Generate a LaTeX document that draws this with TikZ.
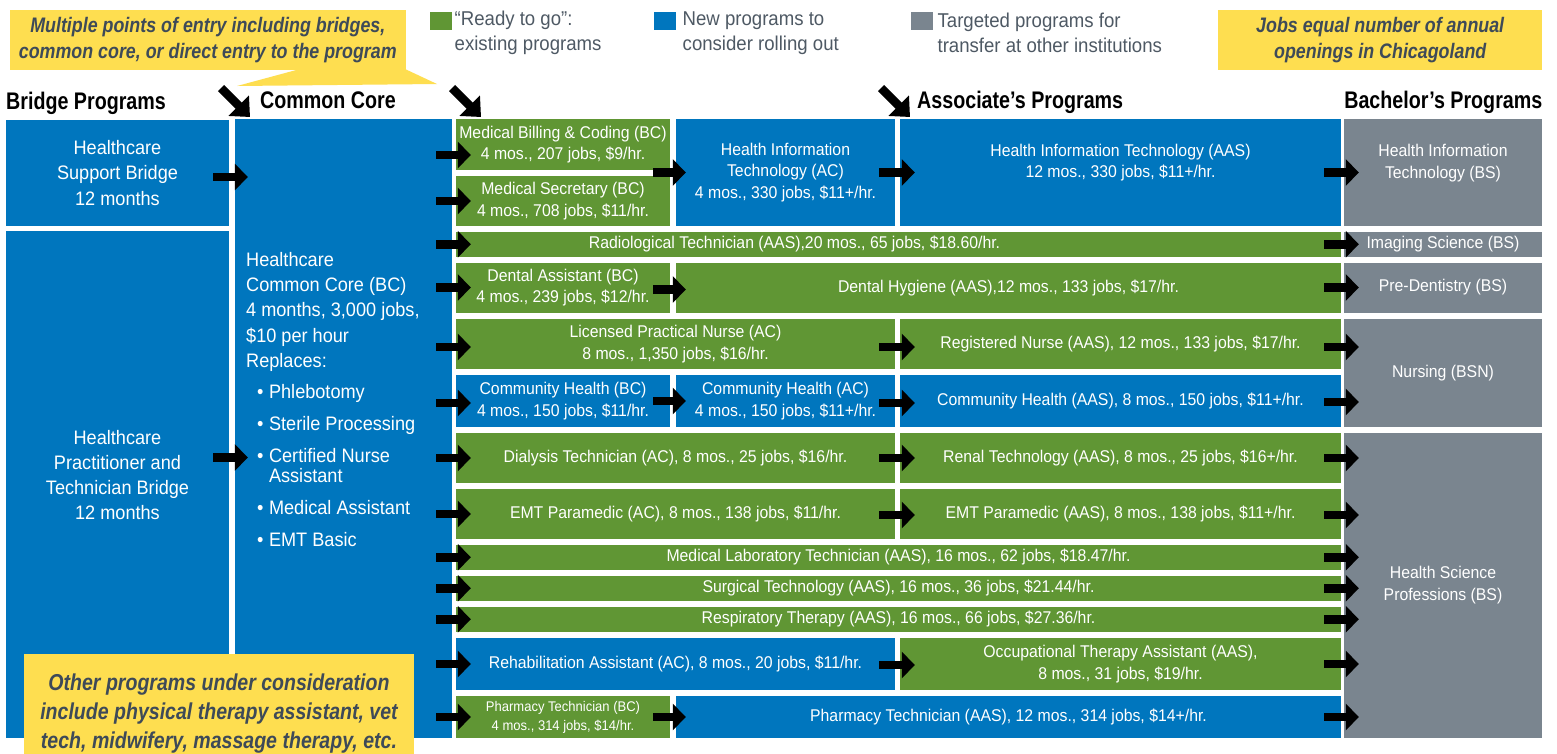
\documentclass[tikz,border=0pt]{standalone}
\usepackage{fontspec}
\setmainfont{Liberation Sans}[FakeStretch=0.93]
\newfontfamily\headfont{Liberation Sans}[FakeStretch=0.82]
\newfontfamily\callfont{Liberation Sans}[FakeStretch=0.85]
\usetikzlibrary{arrows.meta,positioning,calc}
\definecolor{readygreen}{RGB}{96,150,52}
\definecolor{newblue}{RGB}{0,118,190}
\definecolor{transgray}{RGB}{122,133,143}
\definecolor{noteyellow}{RGB}{254,222,80}
\definecolor{notetext}{RGB}{62,74,88}
\definecolor{keytext}{RGB}{78,89,100}
\begin{document}
\begin{tikzpicture}
[x=1pt,y=-1pt,
prog/.style={rectangle,inner sep=0pt,text=white,align=center,font=\fontsize{17}{21.5}\selectfont},
grn/.style={prog,fill=readygreen},
blu/.style={prog,fill=newblue},
gry/.style={prog,fill=transgray},
bridge/.style={prog,font=\fontsize{19.5}{25.3}\selectfont},
note/.style={fill=noteyellow,text=notetext,inner sep=0pt,align=center,font=\callfont\bfseries\itshape\fontsize{21}{25.5}\selectfont},
head/.style={inner sep=0pt,font=\headfont\bfseries\fontsize{24}{28}\selectfont},
keybox/.style={inner sep=0pt,minimum width=22pt,minimum height=18pt},
keytxt/.style={inner sep=0pt,text=keytext,align=left,anchor=west,font=\fontsize{20}{24.4}\selectfont},
go/.style={-{Triangle[length=13pt,width=26pt]},line width=8.5pt},
diag/.style={-{Triangle[length=16pt,width=28pt]},line width=8.5pt}]
\useasboundingbox (0,0) rectangle (1557,753);
\clip (0,0) rectangle (1557,753);
\fill[white] (0,0) rectangle (1557,753);

% callouts and legend
\node[note,minimum width=396pt,minimum height=60pt] (entry) at (207.8,40) {Multiple points of entry including bridges,\\common core, or direct entry to the program};
\fill[noteyellow] (300,69) -- (237,86) -- (437,84) -- (405,69) -- cycle;
\node[note,minimum width=324pt,minimum height=60pt] (jobs) at (1380.2,40) {Jobs equal number of annual\\openings in Chicagoland};
\node[keybox,fill=readygreen] (kgreen) at (440.7,20.9) {};
\node[keytxt] (kgreentxt) at (454.5,33) {“Ready to go”:\\existing programs};
\node[keybox,fill=newblue] (kblue) at (664.8,20.9) {};
\node[keytxt] (kbluetxt) at (682.5,33) {New programs to\\consider rolling out};
\node[keybox,fill=transgray] (kgray) at (922,20.9) {};
\node[keytxt] (kgraytxt) at (937.4,33) {Targeted programs for\\transfer at other institutions};

% column heads
\node[head,anchor=base west] (hbridge) at (6,109) {Bridge Programs};
\node[head,anchor=base west] (hcore) at (260,108.5) {Common Core};
\node[head,anchor=base west] (hassoc) at (917,108.5) {Associate’s Programs};
\node[head,anchor=base east] (hbach) at (1542.5,108.5) {Bachelor’s Programs};
\coordinate (ent1) at (221,88);
\coordinate (tip1) at (250,117);
\coordinate (ent2) at (452,88);
\coordinate (tip2) at (481,117);
\coordinate (ent3) at (881,88);
\coordinate (tip3) at (910,117);
\draw[diag] (ent1) -- (tip1);
\draw[diag] (ent2) -- (tip2);
\draw[diag] (ent3) -- (tip3);

% bridges and common core
\node[blu,bridge,minimum width=223pt,minimum height=106pt] (hsb) at (117.5,173) {Healthcare\\Support Bridge\\12 months};
\node[blu,minimum width=223pt,minimum height=507pt] (hpt) at (117.5,484.5) {};
\node[bridge] (hpttext) at ([yshift=9.5pt]hpt.center) {Healthcare\\Practitioner and\\Technician Bridge\\12 months};
\node[blu,minimum width=217pt,minimum height=619pt] (cc) at (343.5,428.5) {};
\node[bridge,align=left,anchor=north west] (cctext) at (246,252) {Healthcare\\Common Core (BC)\\4 months, 3,000 jobs,\\\$10 per hour\\Replaces:\\[5.3pt]
\hspace*{11pt}\textbullet\hspace{5.5pt}Phlebotomy\\[7pt]
\hspace*{11pt}\textbullet\hspace{5.5pt}Sterile Processing\\[6.5pt]
\hspace*{11pt}\textbullet\hspace{5.5pt}Certified Nurse\\[-5.5pt]
\hspace*{22.8pt}Assistant\\[7pt]
\hspace*{11pt}\textbullet\hspace{5.5pt}Medical Assistant\\[6.5pt]
\hspace*{11pt}\textbullet\hspace{5.5pt}EMT Basic};

% certificates and associate programs
\node[grn,minimum width=214pt,minimum height=51pt] (mbc) at (563,144.5) {Medical Billing \& Coding (BC)\\4 mos., 207 jobs, \$9/hr.};
\node[grn,minimum width=214pt,minimum height=50pt] (msec) at (563,201) {Medical Secretary (BC)\\4 mos., 708 jobs, \$11/hr.};
\node[blu,minimum width=219pt,minimum height=107pt] (hitac) at (785.5,172.5) {Health Information\\Technology (AC)\\4 mos., 330 jobs, \$11+/hr.};
\node[blu,minimum width=441pt,minimum height=107pt] (hitaas) at (1120.5,172.5) {};
\node[prog] (hitaastext) at ([yshift=10pt]hitaas.center) {Health Information Technology (AAS)\\12 mos., 330 jobs, \$11+/hr.};
\node[grn,minimum width=885pt,minimum height=25.5pt] (rad) at (898.5,244.25) {};
\node[prog] (radtext) at ([xshift=-104pt]rad.center) {Radiological Technician (AAS),20 mos., 65 jobs, \$18.60/hr.};
\node[grn,minimum width=214pt,minimum height=50pt] (dasst) at (563,287.5) {Dental Assistant (BC)\\4 mos., 239 jobs, \$12/hr.};
\node[grn,minimum width=665pt,minimum height=50pt] (dhyg) at (1008.5,287.5) {Dental Hygiene (AAS),12 mos., 133 jobs, \$17/hr.};
\node[grn,minimum width=439pt,minimum height=50pt] (lpn) at (675.5,344) {Licensed Practical Nurse (AC)\\8 mos., 1,350 jobs, \$16/hr.};
\node[grn,minimum width=441pt,minimum height=50pt] (rn) at (1120.5,344) {Registered Nurse (AAS), 12 mos., 133 jobs, \$17/hr.};
\node[blu,minimum width=214pt,minimum height=52pt] (chbc) at (563,401) {Community Health (BC)\\4 mos., 150 jobs, \$11/hr.};
\node[blu,minimum width=219pt,minimum height=52pt] (chac) at (785.5,401) {Community Health (AC)\\4 mos., 150 jobs, \$11+/hr.};
\node[blu,minimum width=441pt,minimum height=52pt] (chaas) at (1120.5,401) {Community Health (AAS), 8 mos., 150 jobs, \$11+/hr.};
\node[grn,minimum width=439pt,minimum height=50pt] (dial) at (675.5,458) {Dialysis Technician (AC), 8 mos., 25 jobs, \$16/hr.};
\node[grn,minimum width=441pt,minimum height=50pt] (renal) at (1120.5,458) {Renal Technology (AAS), 8 mos., 25 jobs, \$16+/hr.};
\node[grn,minimum width=439pt,minimum height=50pt] (emt) at (675.5,514) {EMT Paramedic (AC), 8 mos., 138 jobs, \$11/hr.};
\node[grn,minimum width=441pt,minimum height=50pt] (emtaas) at (1120.5,514) {EMT Paramedic (AAS), 8 mos., 138 jobs, \$11+/hr.};
\node[grn,minimum width=885pt,minimum height=25.5pt] (mlt) at (898.5,557.25) {Medical Laboratory Technician (AAS), 16 mos., 62 jobs, \$18.47/hr.};
\node[grn,minimum width=885pt,minimum height=25.5pt] (surg) at (898.5,588.25) {Surgical Technology (AAS), 16 mos., 36 jobs, \$21.44/hr.};
\node[grn,minimum width=885pt,minimum height=25.5pt] (resp) at (898.5,619.25) {Respiratory Therapy (AAS), 16 mos., 66 jobs, \$27.36/hr.};
\node[blu,minimum width=439pt,minimum height=52pt] (rehab) at (675.5,664) {Rehabilitation Assistant (AC), 8 mos., 20 jobs, \$11/hr.};
\node[grn,minimum width=441pt,minimum height=52pt] (ota) at (1120.5,664) {Occupational Therapy Assistant (AAS),\\8 mos., 31 jobs, \$19/hr.};
\node[grn,minimum width=214pt,minimum height=42pt,font=\fontsize{14}{19}\selectfont] (phbc) at (563,717) {Pharmacy Technician (BC)\\4 mos., 314 jobs, \$14/hr.};
\node[blu,minimum width=665pt,minimum height=42pt] (phaas) at (1008.5,717) {Pharmacy Technician (AAS), 12 mos., 314 jobs, \$14+/hr.};

% bachelor programs
\node[gry,minimum width=198pt,minimum height=107pt] (hitbs) at (1443,172.5) {};
\node[prog] (hitbstext) at ([yshift=9.5pt]hitbs.center) {Health Information\\Technology (BS)};
\node[gry,minimum width=198pt,minimum height=25.5pt] (imgbs) at (1443,244.25) {Imaging Science (BS)};
\node[gry,minimum width=198pt,minimum height=50pt] (predent) at (1443,287.5) {Pre-Dentistry (BS)};
\node[gry,minimum width=198pt,minimum height=108pt] (nursing) at (1443,373) {Nursing (BSN)};
\node[gry,minimum width=198pt,minimum height=305.5pt] (hsp) at (1443,585.25) {Health Science\\Professions (BS)};

\node[note,minimum width=390pt,minimum height=119pt,font=\callfont\bfseries\itshape\fontsize{23}{29}\selectfont] (other) at (219,713.5) {Other programs under consideration\\include physical therapy assistant, vet\\tech, midwifery, massage therapy, etc.};

% arrows
\draw[go] ($(hsb.east)+(-16pt,-4pt)$) -- ($(hsb.east -| cc.west)+(13pt,-4pt)$);
\draw[go] ($(hpt.east)+(-16pt,27pt)$) -- ($(hpt.east -| cc.west)+(13pt,27pt)$);
\draw[go] ($(cc.east |- mbc.west)+(-16pt,-10.5pt)$) -- ($(mbc.west)+(15pt,-10.5pt)$);
\draw[go] ($(cc.east |- msec.west)+(-16pt,0)$) -- ($(msec.west)+(15pt,0)$);
\draw[go] ($(cc.east |- rad.west)+(-16pt,0)$) -- ($(rad.west)+(15pt,0)$);
\draw[go] ($(cc.east |- dasst.west)+(-16pt,0)$) -- ($(dasst.west)+(15pt,0)$);
\draw[go] ($(cc.east |- lpn.west)+(-16pt,-3pt)$) -- ($(lpn.west)+(15pt,-3pt)$);
\draw[go] ($(cc.east |- chbc.west)+(-16pt,-2pt)$) -- ($(chbc.west)+(15pt,-2pt)$);
\draw[go] ($(cc.east |- dial.west)+(-16pt,0)$) -- ($(dial.west)+(15pt,0)$);
\draw[go] ($(cc.east |- emt.west)+(-16pt,0)$) -- ($(emt.west)+(15pt,0)$);
\draw[go] ($(cc.east |- mlt.west)+(-16pt,0)$) -- ($(mlt.west)+(15pt,0)$);
\draw[go] ($(cc.east |- surg.west)+(-16pt,0)$) -- ($(surg.west)+(15pt,0)$);
\draw[go] ($(cc.east |- resp.west)+(-16pt,0)$) -- ($(resp.west)+(15pt,0)$);
\draw[go] ($(cc.east |- rehab.west)+(-16pt,0)$) -- ($(rehab.west)+(15pt,0)$);
\draw[go] ($(cc.east |- phbc.west)+(-16pt,0)$) -- ($(phbc.west)+(15pt,0)$);

\draw[go] ($(mbc.east |- hitac.west)+(-17pt,0)$) -- ($(hitac.west)+(10pt,0)$);
\draw[go] ($(hitac.east)+(-16pt,0)$) -- ($(hitac.east -| hitaas.west)+(15pt,0)$);
\draw[go] ($(dasst.east)+(-17pt,-2pt)$) -- ($(dasst.east -| dhyg.west)+(10pt,-2pt)$);
\draw[go] ($(lpn.east)+(-16pt,-3pt)$) -- ($(lpn.east -| rn.west)+(15pt,-3pt)$);
\draw[go] ($(chbc.east)+(-17pt,0)$) -- ($(chbc.east -| chac.west)+(10pt,0)$);
\draw[go] ($(chac.east)+(-16pt,-2pt)$) -- ($(chac.east -| chaas.west)+(15pt,-2pt)$);
\draw[go] ($(dial.east)+(-16pt,0)$) -- ($(dial.east -| renal.west)+(15pt,0)$);
\draw[go] ($(emt.east)+(-16pt,-1pt)$) -- ($(emt.east -| emtaas.west)+(15pt,-1pt)$);
\draw[go] ($(rehab.east)+(-16pt,-1pt)$) -- ($(rehab.east -| ota.west)+(15pt,-1pt)$);
\draw[go] ($(phbc.east)+(-17pt,0)$) -- ($(phbc.east -| phaas.west)+(10pt,0)$);

\draw[go] ($(hitaas.east)+(-17pt,0)$) -- ($(hitaas.east -| hitbs.west)+(15pt,0)$);
\draw[go] ($(rad.east)+(-17pt,0)$) -- ($(rad.east -| imgbs.west)+(15pt,0)$);
\draw[go] ($(dhyg.east)+(-17pt,0)$) -- ($(dhyg.east -| predent.west)+(15pt,0)$);
\draw[go] ($(rn.east)+(-17pt,-3pt)$) -- ($(rn.east -| nursing.west)+(15pt,-3pt)$);
\draw[go] ($(chaas.east)+(-17pt,-1pt)$) -- ($(chaas.east -| nursing.west)+(15pt,-1pt)$);
\draw[go] ($(renal.east)+(-17pt,0)$) -- ($(renal.east -| hsp.west)+(15pt,0)$);
\draw[go] ($(emtaas.east)+(-17pt,-1pt)$) -- ($(emtaas.east -| hsp.west)+(15pt,-1pt)$);
\draw[go] ($(mlt.east)+(-17pt,0)$) -- ($(mlt.east -| hsp.west)+(15pt,0)$);
\draw[go] ($(surg.east)+(-17pt,0)$) -- ($(surg.east -| hsp.west)+(15pt,0)$);
\draw[go] ($(resp.east)+(-17pt,0)$) -- ($(resp.east -| hsp.west)+(15pt,0)$);
\draw[go] ($(ota.east)+(-17pt,0)$) -- ($(ota.east -| hsp.west)+(15pt,0)$);
\draw[go] ($(phaas.east)+(-17pt,0)$) -- ($(phaas.east -| hsp.west)+(15pt,0)$);
\end{tikzpicture}
\end{document}
